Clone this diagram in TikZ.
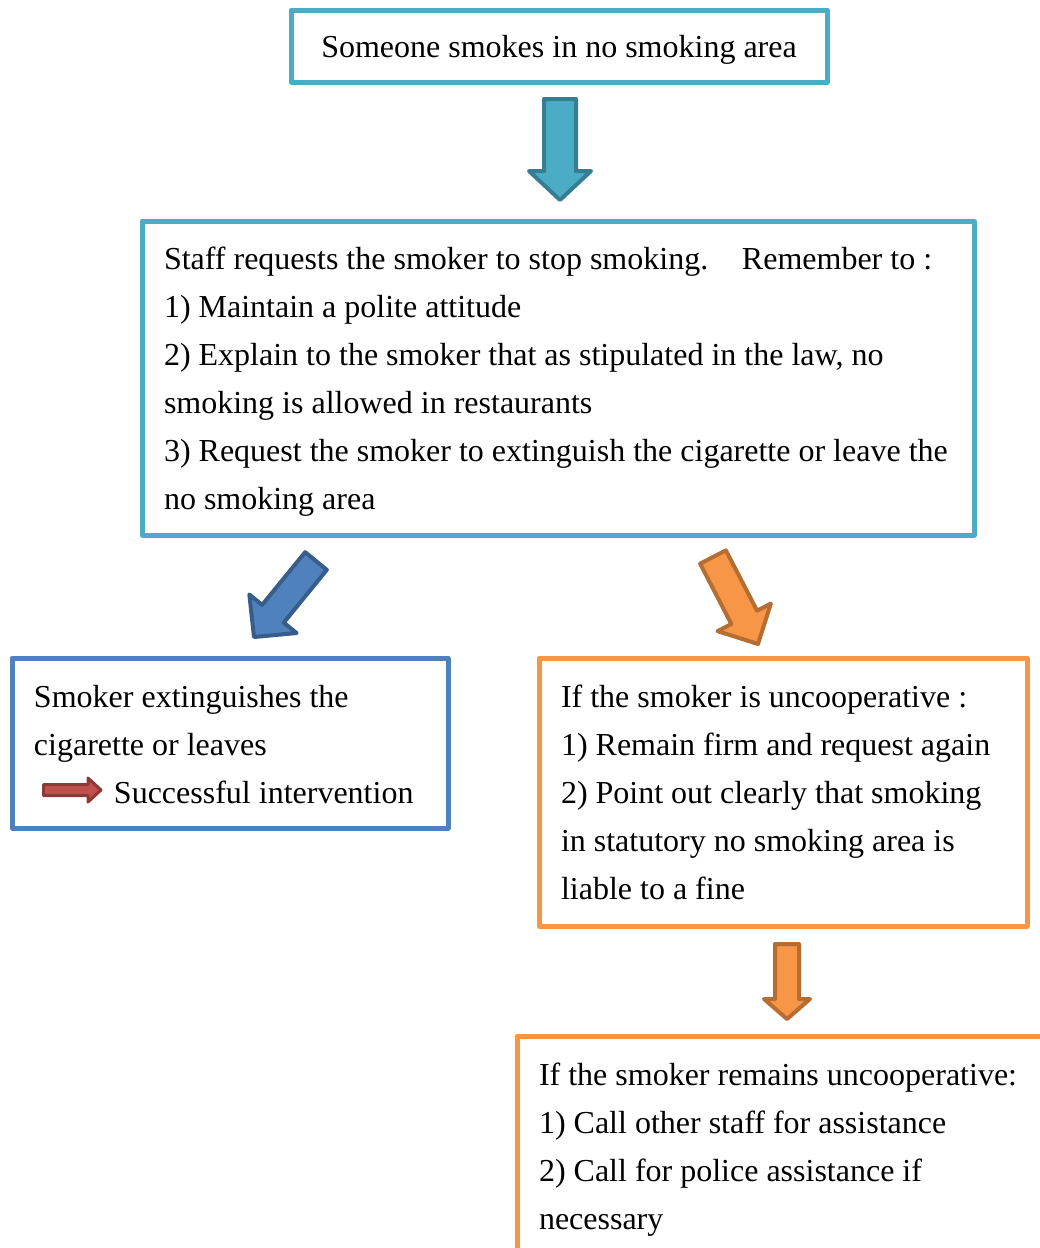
\documentclass[tikz,border=0pt]{standalone}
\usepackage{fontspec}
\setmainfont{Liberation Serif}
\usetikzlibrary{calc}

\definecolor{aqua}{HTML}{4BACC6}
\definecolor{aquadark}{HTML}{357D91}
\definecolor{steel}{HTML}{4F81BD}
\definecolor{steeldark}{HTML}{385D8A}
\definecolor{tangerine}{HTML}{F79646}
\definecolor{tangerinedark}{HTML}{B66D31}
\definecolor{brick}{HTML}{C0504D}
\definecolor{brickdark}{HTML}{8C3836}

% block arrow: style, tail, tip, half shaft, half head, head length
\newcommand{\blockarrow}[6]{%
  \coordinate (#2-#3) at ($(#3)!#6!(#2)$);
  \draw[#1] ($(#2)!#4!90:(#3)$) -- ($(#2-#3)!#4!90:(#3)$) -- ($(#2-#3)!#5!90:(#3)$) -- (#3)
    -- ($(#2-#3)!#5!-90:(#3)$) -- ($(#2-#3)!#4!-90:(#3)$) -- ($(#2)!#4!-90:(#3)$) -- cycle;
}

\begin{document}
\begin{tikzpicture}[x=1pt, y=-1pt, line join=round,
  panel/.style = {draw, line width=5pt, inner xsep=22pt, align=left, font=\fontsize{32}{48}\selectfont,
    execute at begin node={\spaceskip=0pt\xspaceskip=0pt\hyphenpenalty=10000}},
  blockhead/.style = {line width=4pt}]
\useasboundingbox (0,0) rectangle (1040,1248);

\node[panel, draw=aqua, minimum width=536pt, minimum height=72pt, align=center, text depth=0pt] (smoking) at (559,46) {Someone smokes in no smoking area};
\node[panel, draw=aqua, minimum width=832pt, minimum height=314pt, text width=788pt] (request) at (558,378) {\rule{0pt}{30pt}Staff requests the smoker to stop smoking.\hspace{23pt} Remember to :\\
1) Maintain a polite attitude\\
2) Explain to the smoker that as stipulated in the law, no\\
smoking is allowed in restaurants\\
3) Request the smoker to extinguish the cigarette or leave the\\
no smoking area};
\node[panel, draw=steel, minimum width=436pt, minimum height=170pt, text width=392pt] (success) at (230,743) {\rule{0pt}{26pt}Smoker extinguishes the\\
cigarette or leaves\\
\hspace*{80pt}Successful intervention};
\node[panel, draw=tangerine, minimum width=488pt, minimum height=268pt, text width=444pt] (refuse) at (783,792) {If the smoker is uncooperative :\\
1) Remain firm and request again\\
2) Point out clearly that smoking\\
in statutory no smoking area is\\
liable to a fine};
\node[panel, draw=tangerine, minimum width=530pt, minimum height=220pt, text width=486pt] (escalate) at (782,1146) {\rule{0pt}{30pt}If the smoker remains uncooperative:\\
1) Call other staff for assistance\\
2) Call for police assistance if\\
necessary};

\coordinate (t1) at (560,99);
\coordinate (h1) at (560,200);
\coordinate (t2) at (316,561);
\coordinate (h2) at (254,637);
\coordinate (t3) at (713,557);
\coordinate (h3) at (758,644);
\coordinate (t4) at (787,944);
\coordinate (h4) at (787,1019);
\coordinate (t5) at (43.5,790);
\coordinate (h5) at (101,790);

\blockarrow{fill=aqua, draw=aquadark, blockhead}{t1}{h1}{16pt}{31pt}{29pt}
\blockarrow{fill=steel, draw=steeldark, blockhead}{t2}{h2}{14pt}{30.5pt}{30pt}
\blockarrow{fill=tangerine, draw=tangerinedark, blockhead}{t3}{h3}{14.5pt}{30pt}{30pt}
\blockarrow{fill=tangerine, draw=tangerinedark, blockhead}{t4}{h4}{12pt}{23pt}{20pt}
\blockarrow{fill=brick, draw=brickdark, line width=3pt}{t5}{h5}{5.5pt}{12pt}{13pt}
\end{tikzpicture}
\end{document}
